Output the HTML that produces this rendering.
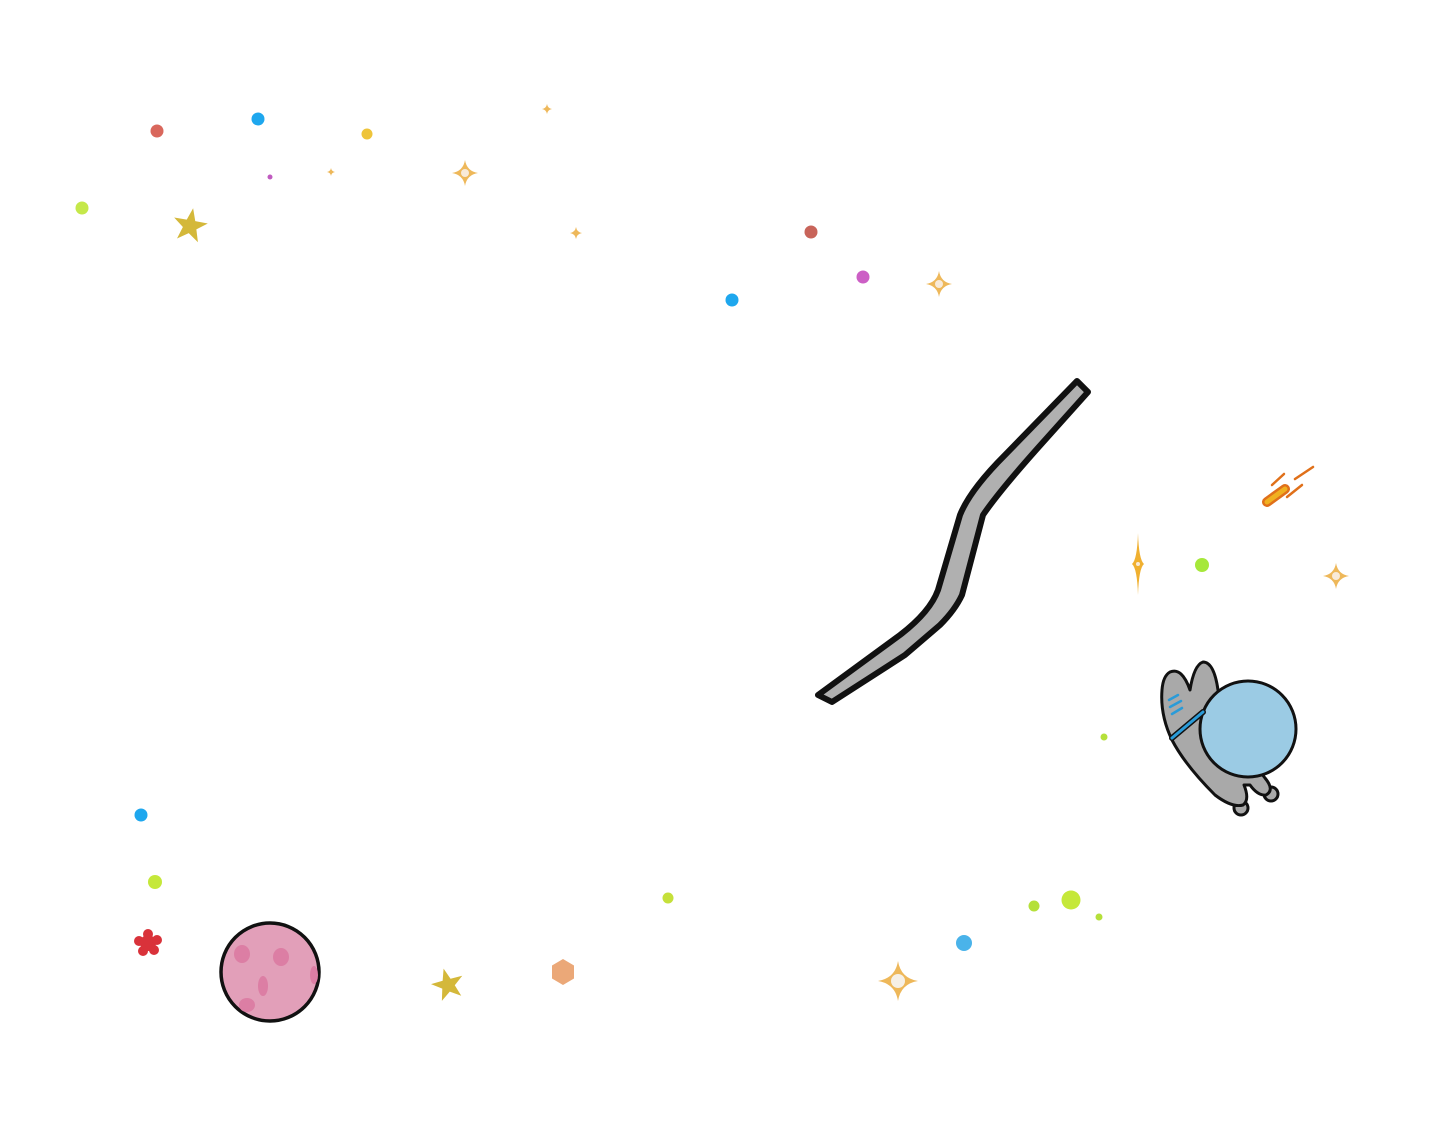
<!DOCTYPE html>
<html><head><meta charset="utf-8"><style>html,body{margin:0;padding:0;background:#fff}svg{display:block}</style></head>
<body>
<svg width="1438" height="1125" viewBox="0 0 1438 1125" xmlns="http://www.w3.org/2000/svg">
<defs>
<path id="sp" d="M0,-1 Q0.14,-0.14 1,0 Q0.14,0.14 0,1 Q-0.14,0.14 -1,0 Q-0.14,-0.14 0,-1Z"/>
</defs>
<g>
<circle cx="157" cy="131" r="6.5" fill="#d9675c"/>
<circle cx="258" cy="119" r="6.5" fill="#1ea7ee"/>
<circle cx="367" cy="134" r="5.5" fill="#eec43a"/>
<circle cx="270" cy="177" r="2.5" fill="#c05bc0"/>
<circle cx="82" cy="208" r="6.5" fill="#c5e84a"/>
<circle cx="811" cy="232" r="6.5" fill="#c8645a"/>
<circle cx="863" cy="277" r="6.5" fill="#cc5fc5"/>
<circle cx="732" cy="300" r="6.5" fill="#1ea7ee"/>
<circle cx="1202" cy="565" r="7" fill="#a6e83a"/>
<circle cx="1104" cy="737" r="3.5" fill="#b5e03a"/>
<circle cx="141" cy="815" r="6.5" fill="#1ea7ee"/>
<circle cx="155" cy="882" r="7" fill="#c5e83a"/>
<circle cx="668" cy="898" r="5.5" fill="#c5e03a"/>
<circle cx="1034" cy="906" r="5.5" fill="#b5e03a"/>
<circle cx="1071" cy="900" r="9.5" fill="#c5e83a"/>
<circle cx="1099" cy="917" r="3.5" fill="#b5e03a"/>
<circle cx="964" cy="943" r="8" fill="#4ab3ea"/>
</g>
<g fill="#eeb85a">
<use href="#sp" transform="translate(465,173) scale(13)"/>
<use href="#sp" transform="translate(939,284) scale(13)"/>
<use href="#sp" transform="translate(1336,576) scale(13)"/>
<use href="#sp" transform="translate(898,981) scale(20)"/>
<use href="#sp" transform="translate(547,109) scale(5)"/>
<use href="#sp" transform="translate(331,172) scale(4)"/>
<use href="#sp" transform="translate(576,233) scale(6)"/>
<use href="#sp" transform="translate(1138,564) scale(6,31)" fill="#f0b030"/>
</g>
<g fill="#f8ead8">
<circle cx="465" cy="173" r="4"/><circle cx="939" cy="284" r="4"/><circle cx="1336" cy="576" r="4"/><circle cx="898" cy="981" r="7" fill="#f6f0e6"/><circle cx="1138" cy="564" r="2"/>
</g>
<polygon fill="#d4b83a" transform="translate(190,226) rotate(10) scale(18)" points="0,-1 0.24,-0.32 0.95,-0.31 0.38,0.12 0.59,0.81 0,0.4 -0.59,0.81 -0.38,0.12 -0.95,-0.31 -0.24,-0.32"/>
<polygon fill="#d4b83a" transform="translate(448,985) rotate(-15) scale(17)" points="0,-1 0.24,-0.32 0.95,-0.31 0.38,0.12 0.59,0.81 0,0.4 -0.59,0.81 -0.38,0.12 -0.95,-0.31 -0.24,-0.32"/>
<polygon fill="#eba878" points="563,959 574,965.5 574,978.5 563,985 552,978.5 552,965.5"/>
<g fill="#d9323a">
<circle cx="148" cy="943" r="8"/>
<circle cx="148" cy="934" r="5"/><circle cx="157" cy="940" r="5"/><circle cx="154" cy="950" r="5"/><circle cx="143" cy="951" r="5"/><circle cx="139" cy="941" r="5"/>
</g>
<circle cx="270" cy="972" r="49" fill="#e29fb9" stroke="#111" stroke-width="3.5"/>
<g fill="#dc7ea4">
<ellipse cx="242" cy="954" rx="8" ry="9"/>
<ellipse cx="281" cy="957" rx="8" ry="9"/>
<ellipse cx="263" cy="986" rx="5" ry="10"/>
<ellipse cx="247" cy="1005" rx="8" ry="7"/>
<ellipse cx="314" cy="975" rx="4" ry="9"/>
</g>
<path fill="#b0b0b0" stroke="#111" stroke-width="6" stroke-linejoin="round" d="M1077,381 L1088,392 L1045,440 Q1000,490 983,515 L962,595 Q955,610 940,625 L905,655 L832,702 L818,695 L900,635 Q930,612 938,590 L960,515 Q970,490 1005,455 Z"/>
<g stroke="#e0701a" stroke-width="2.5" stroke-linecap="round">
<line x1="1284" y1="474" x2="1272" y2="485"/>
<line x1="1313" y1="467" x2="1295" y2="479"/>
<line x1="1302" y1="485" x2="1287" y2="497"/>
</g>
<line x1="1267" y1="502" x2="1285" y2="489" stroke="#e0701a" stroke-width="10" stroke-linecap="round"/>
<line x1="1267" y1="502" x2="1285" y2="489" stroke="#f0b020" stroke-width="5" stroke-linecap="round"/>
<g stroke="#111" stroke-width="3" stroke-linejoin="round">
<circle cx="1241" cy="808" r="7" fill="#a9a9a9"/>
<circle cx="1271" cy="794" r="7" fill="#a9a9a9"/>
<path fill="#a9a9a9" d="M1170,672 Q1182,667 1190,690 Q1194,665 1203,662 Q1214,662 1218,690 L1235,740 L1265,778 Q1275,790 1266,795 Q1258,796 1250,785 L1244,785 Q1250,800 1243,805 Q1232,808 1215,795 Q1185,765 1172,740 Q1160,715 1162,690 Q1163,676 1170,672Z"/>
<circle cx="1248" cy="729" r="48" fill="#9bcbe4"/>
</g>
<path d="M1172,738 L1203,712" stroke="#111" stroke-width="6" stroke-linecap="round"/>
<path d="M1172,738 L1203,712" stroke="#2a9bd8" stroke-width="3" stroke-linecap="round"/>
<g stroke="#2a9bd8" stroke-width="2.5" stroke-linecap="round">
<line x1="1169" y1="700" x2="1178" y2="695"/>
<line x1="1170" y1="707" x2="1181" y2="701"/>
<line x1="1172" y1="714" x2="1182" y2="708"/>
</g>
</svg>
</body></html>
